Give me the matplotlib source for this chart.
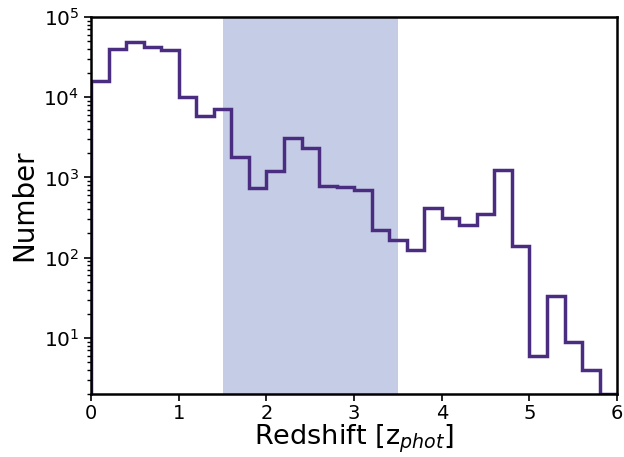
import numpy as np
import matplotlib.pyplot as plt

# photometric redshift histogram, bins of 0.2 from 0 to 6
bin_edges = np.round(np.arange(0, 6.01, 0.2), 1)
counts = [16000, 40000, 48400, 42000, 38500, 10100, 5780, 7050, 1770, 736,
          1190, 3080, 2340, 787, 765, 690, 224, 168, 124, 421,
          316, 256, 350, 1233, 139, 6, 33, 9, 4, 2]

shade_lo, shade_hi = 1.5, 3.5
line_color = "#4a2c80"
shade_color = "#c5cde6"

fig = plt.figure(figsize=(6.24, 4.57), dpi=100)
ax = fig.add_axes([0.146, 0.138, 0.843, 0.825])

ax.axvspan(shade_lo, shade_hi, color=shade_color, lw=0, zorder=0)
ax.stairs(counts, bin_edges, baseline=1, color=line_color, lw=2.5, zorder=2)

ax.set_yscale("log")
ax.set_xlim(0, 6)
ax.set_ylim(2, 1e5)
ax.set_xticks(range(7))

ax.set_xlabel(r"Redshift [z$_{phot}$]", fontsize=19.5, labelpad=0)
ax.set_ylabel("Number", fontsize=20, labelpad=4)

ax.tick_params(axis="x", which="major", labelsize=14, width=1.2, length=5, pad=2)
ax.tick_params(axis="y", which="major", labelsize=14.5, width=1.2, length=5)
ax.tick_params(axis="y", which="minor", width=1.0, length=3)
for s in ax.spines.values():
    s.set_linewidth(1.8)
    s.set_zorder(3)

fig.savefig("out.png", dpi=100)
